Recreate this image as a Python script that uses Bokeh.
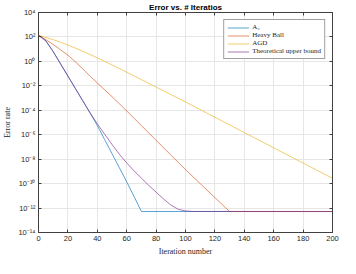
from bokeh.plotting import figure
from bokeh.models import FixedTicker, LinearAxis, LogAxis
from bokeh.embed import file_html
from bokeh.resources import INLINE

# ---- data ----
t_a3 = [0, 5, 10, 15, 20, 25, 30, 35, 40, 45, 50, 55, 60, 65, 70, 200]
err_a3 = [1.35e2, 4.8e1, 6.3e0, 6.3e-1, 6.3e-2, 6.3e-3, 6.3e-4, 6.3e-5, 5.6e-6,
          4.0e-7, 2.8e-8, 2.0e-9, 1.4e-10, 8.9e-12, 5.2e-13, 5.2e-13]

t_hb = [0, 5, 10, 15, 20, 25, 30, 35, 40, 50, 60, 70, 80, 90, 100, 110, 120, 130, 200]
err_hb = [1.35e2, 6.0e1, 2.4e1, 8.9e0, 3.2e0, 9.5e-1, 2.5e-1, 6.3e-2, 1.7e-2, 1.3e-3,
          8.9e-5, 5.6e-6, 3.5e-7, 2.2e-8, 1.4e-9, 1.0e-10, 7.1e-12, 5.2e-13, 5.2e-13]

t_agd = [0, 10, 20, 30, 40, 50, 60, 70, 80, 90, 100, 120, 140, 160, 180, 200]
err_agd = [1.35e2, 6.0e1, 2.2e1, 6.9e0, 1.95e0, 5.1e-1, 1.3e-1, 3.2e-2, 7.9e-3, 1.95e-3,
           4.8e-4, 2.7e-5, 1.5e-6, 8.5e-8, 4.8e-9, 2.7e-10]

t_ub = [0, 5, 10, 15, 20, 25, 30, 35, 40, 45, 50, 55, 60, 65, 70, 75, 80, 85, 90, 95, 100, 105, 200]
err_ub = [1.35e2, 4.8e1, 6.3e0, 6.3e-1, 6.3e-2, 6.3e-3, 6.3e-4, 6.3e-5, 7.9e-6, 1.1e-6,
          1.6e-7, 2.5e-8, 5.0e-9, 1.1e-9, 2.8e-10, 7.1e-11, 2.0e-11, 5.6e-12, 1.8e-12,
          7.9e-13, 5.8e-13, 5.3e-13, 5.2e-13]

series_names = ["A\u2083", "Heavy Ball", "AGD", "Theoretical upper bound"]
x_ticks = [0, 20, 40, 60, 80, 100, 120, 140, 160, 180, 200]
y_exponents = [4, 2, 0, -2, -4, -6, -8, -10, -12, -14]
y_tick_labels = ["10\u2074", "10\u00b2", "10\u2070", "10\u207b\u00b2", "10\u207b\u2074",
                 "10\u207b\u2076", "10\u207b\u2078", "10\u207b\u00b9\u2070",
                 "10\u207b\u00b9\u00b2", "10\u207b\u00b9\u2074"]

# ---- figure ----
p = figure(width=340, height=258, x_range=(0, 200), y_range=(1e-14, 1e4),
           y_axis_type="log", output_backend="svg", toolbar_location=None,
           title="Error vs. # Iteratios")
p.min_border_left = 0
p.min_border_right = 8
p.min_border_top = 0
p.min_border_bottom = 0
p.background_fill_color = "white"
p.outline_line_color = "#404040"
p.outline_line_width = 1

p.title.align = "center"
p.title.text_font = "Liberation Sans"
p.title.text_font_size = "8px"
p.title.text_font_style = "bold"
p.title.text_color = "#000000"
p.title.standoff = 1
p.title.offset = 0

yvals = [10.0 ** e for e in y_exponents]
xt = FixedTicker(ticks=x_ticks, minor_ticks=[])
yt = FixedTicker(ticks=yvals, minor_ticks=[])

xa = p.xaxis[0]
ya = p.yaxis[0]
xa.ticker = xt
ya.ticker = yt
ya.major_label_overrides = {v: lab for v, lab in zip(yvals, y_tick_labels)}
for ax in (xa, ya):
    ax.major_tick_in = 3
    ax.major_tick_out = 0
    ax.minor_tick_in = 0
    ax.minor_tick_out = 0
    ax.axis_line_color = "#404040"
    ax.major_tick_line_color = "#404040"
    ax.major_label_text_font = "Liberation Sans"
    ax.major_label_text_font_size = "7.5px"
    ax.major_label_text_color = "#262626"
    ax.major_label_standoff = 3
    ax.axis_label_text_font = "Liberation Serif"
    ax.axis_label_text_font_size = "8px"
    ax.axis_label_text_font_style = "normal"
    ax.axis_label_text_color = "#262626"
    ax.axis_label_standoff = 3
xa.axis_label = "Iteration number"
ya.axis_label = "Error rate"

top = LinearAxis(ticker=FixedTicker(ticks=x_ticks, minor_ticks=[]))
right = LogAxis(ticker=FixedTicker(ticks=yvals, minor_ticks=[]))
for ax in (top, right):
    ax.major_tick_in = 3
    ax.major_tick_out = 0
    ax.minor_tick_in = 0
    ax.minor_tick_out = 0
    ax.axis_line_color = "#404040"
    ax.major_tick_line_color = "#404040"
    ax.major_label_text_font_size = "0px"
    ax.major_label_text_alpha = 0
    ax.major_label_standoff = 0
p.add_layout(top, "above")
p.add_layout(right, "right")

p.xgrid.ticker = xt
p.ygrid.ticker = yt
p.xgrid.grid_line_color = "#e6e6e6"
p.ygrid.grid_line_color = "#e6e6e6"

alpha = 0.65
p.line(t_a3, err_a3, line_color="#0072BD", line_alpha=alpha, line_width=1, legend_label=series_names[0])
p.line(t_hb, err_hb, line_color="#D95319", line_alpha=alpha, line_width=1, legend_label=series_names[1])
p.line(t_agd, err_agd, line_color="#EDB120", line_alpha=alpha, line_width=1, legend_label=series_names[2])
p.line(t_ub, err_ub, line_color="#7E2F8E", line_alpha=alpha, line_width=1, legend_label=series_names[3])

lg = p.legend[0]
lg.location = "top_right"
lg.margin = 7
lg.padding = 3
lg.spacing = 0
lg.label_text_font = "Liberation Serif"
lg.label_text_font_size = "7px"
lg.label_text_color = "#262626"
lg.label_height = 7
lg.glyph_height = 7
lg.glyph_width = 22
lg.label_standoff = 3
lg.border_line_color = "#404040"
lg.border_line_width = 1
lg.background_fill_alpha = 1

open("out.html", "w").write(file_html(p, INLINE))
